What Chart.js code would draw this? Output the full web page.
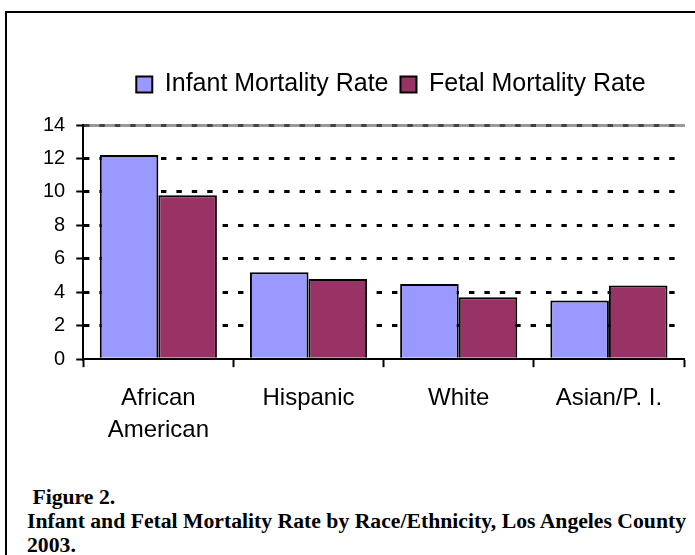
<!DOCTYPE html>
<html>
<head>
<meta charset="utf-8">
<script src="https://cdn.jsdelivr.net/npm/chart.js@4.4.1/dist/chart.umd.min.js"></script>
<style>
    html, body {
        margin: 0;
        padding: 0;
        width: 695px;
        height: 555px;
        overflow: hidden;
        background: #fff;
    }
    #frame {
        position: absolute;
        left: 5px;
        top: 11px;
        width: 720px;
        height: 600px;
        border: 2px solid #000;
    }
    #chart-wrap {
        position: absolute;
        left: 0;
        top: 0;
        width: 695px;
        height: 470px;
    }
    .caption {
        position: absolute;
        left: 27px;
        font-family: "Liberation Serif", "Times New Roman", serif;
        font-weight: bold;
        font-size: 21.7px;
        line-height: 23.5px;
        white-space: pre;
        color: #000;
    }
</style>
</head>
<body>
<div id="frame"></div>
<div id="chart-wrap"><canvas id="mortalityChart" width="695" height="470"></canvas></div>
<div class="caption" style="top:486px"> Figure 2.</div>
<div class="caption" style="top:510px">Infant and Fetal Mortality Rate by Race/Ethnicity, Los Angeles County</div>
<div class="caption" style="top:533.5px">2003.</div>

<script>
const categories = [["African", "American"], "Hispanic", "White", "Asian/P. I."];
const infantRate = [12.2, 5.2, 4.5, 3.5];
const fetalRate = [9.8, 4.8, 3.7, 4.4];
const seriesNames = ["Infant Mortality Rate", "Fetal Mortality Rate"];
const yMin = 0;
const yMax = 14;
const yStep = 2;

/**
 * legenda: um pouco mais de espaço embaixo e deslocada p/ direita
 */
const legendTweak = {
    id: "legendTweak",
    beforeLayout(chart) {
        const lg = chart.legend;
        if (lg && !lg._patched) {
            const fit = lg.fit;
            lg.fit = function () {
                fit.call(this);
                this.height += 18;
            };
            lg._patched = true;
        }
    },
    afterLayout(chart) {
        const lg = chart.legend;
        if (!lg) return;
        lg.left += 33;
        lg.right += 33;
    }
};

const font = "'Liberation Sans', Arial, sans-serif";

new Chart(document.getElementById("mortalityChart"), {
    type: "bar",
    data: {
        labels: categories,
        datasets: [
            {
                label: seriesNames[0],
                data: infantRate,
                backgroundColor: "#9999ff",
                borderColor: "#000",
                borderWidth: 2
            },
            {
                label: seriesNames[1],
                data: fetalRate,
                backgroundColor: "#993366",
                borderColor: "#000",
                borderWidth: 2
            }
        ]
    },
    options: {
        responsive: false,
        animation: false,
        events: [],
        layout: {
            padding: { top: 60, left: 32, right: 11, bottom: 9 }
        },
        datasets: {
            bar: {
                categoryPercentage: 0.78,
                barPercentage: 1
            }
        },
        plugins: {
            legend: {
                position: "top",
                align: "center",
                labels: {
                    color: "#000",
                    font: { family: font, size: 25 },
                    boxWidth: 16,
                    boxHeight: 16,
                    padding: 12
                }
            },
            tooltip: { enabled: false }
        },
        scales: {
            x: {
                grid: {
                    offset: true,
                    drawOnChartArea: false,
                    drawTicks: true,
                    tickLength: 8,
                    tickColor: "#000",
                    tickWidth: 2
                },
                border: { display: true, color: "#000", width: 2 },
                ticks: {
                    color: "#000",
                    font: { family: font, size: 24, lineHeight: 1.33 },
                    padding: 15,
                    maxRotation: 0,
                    autoSkip: false
                }
            },
            // borda cinza do topo da área de plotagem
            xTop: {
                position: "top",
                grid: { drawOnChartArea: false, drawTicks: false },
                border: { display: true, color: "#999", width: 3, z: -1 },
                ticks: { display: false }
            },
            y: {
                min: yMin,
                max: yMax,
                ticks: {
                    stepSize: yStep,
                    color: "#000",
                    font: { family: font, size: 20 },
                    padding: 11
                },
                grid: {
                    color: (ctx) => {
                        if (ctx.tick && ctx.tick.value === yMin) return "rgba(0,0,0,0)";
                        if (ctx.tick && ctx.tick.value === yMax) return "#444";
                        return "#000";
                    },
                    lineWidth: 3,
                    tickLength: 7,
                    tickColor: "#000",
                    tickWidth: 2
                },
                border: { display: true, color: "#000", width: 2, dash: [5.4, 10] }
            }
        }
    },
    plugins: [legendTweak]
});
</script>
</body>
</html>
